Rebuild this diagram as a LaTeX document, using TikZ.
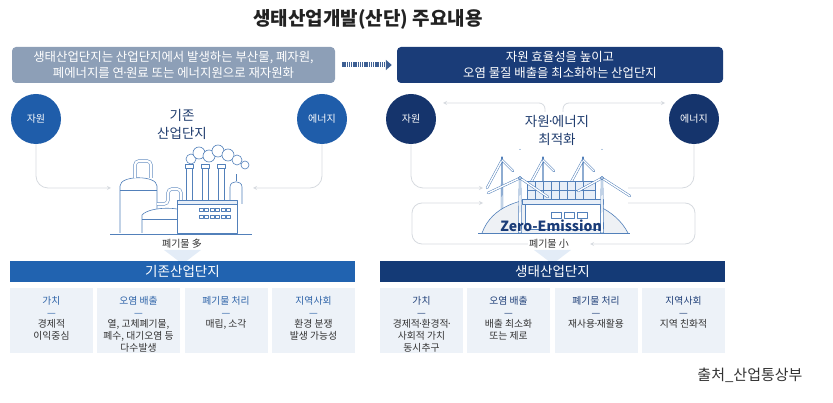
\documentclass[tikz,border=0pt]{standalone}
\usepackage{fontspec}
\setmainfont{Noto Sans CJK KR}
\usepackage{xcolor}
\usetikzlibrary{positioning, arrows.meta}

\definecolor{titletxt}{HTML}{222222}
\definecolor{graybox}{HTML}{8D9FB7}
\definecolor{navybox}{HTML}{1A3C78}
\definecolor{oldblue}{HTML}{1F5DAA}
\definecolor{newnavy}{HTML}{15346C}
\definecolor{oldbar}{HTML}{2163B0}
\definecolor{newbar}{HTML}{143A76}
\definecolor{cellbg}{HTML}{EDF2F8}
\definecolor{oldhead}{HTML}{2E63A8}
\definecolor{newhead}{HTML}{1F3F78}
\definecolor{bodytxt}{HTML}{333333}
\definecolor{midtxt}{HTML}{1F3C6E}
\definecolor{flowgray}{HTML}{D6DADF}
\definecolor{illblue}{HTML}{5280BA}
\definecolor{illfill}{HTML}{E8EFF8}
\definecolor{hillfill}{HTML}{EEF1F5}
\definecolor{glow}{HTML}{E3ECF7}
\definecolor{dotarrow}{HTML}{3D5F93}

\newcommand{\mdot}{\kern-.2em·\kern-.2em}

\tikzset{
	circ/.style = {circle, fill=#1, minimum size=50pt, inner sep=0pt, text=white, font=\fontsize{10}{11}\selectfont},
	headbox/.style = {fill=#1, rounded corners=4pt, minimum height=36pt, inner sep=0pt, text=white, align=center, font=\fontsize{12.4}{15.5}\selectfont},
	bar/.style = {fill=#1, minimum width=345pt, minimum height=21pt, inner sep=0pt, text=white, font=\fontsize{13.5}{15}\selectfont},
	cell/.style = {fill=cellbg, minimum width=83pt, minimum height=65pt, inner sep=0pt, anchor=north},
	celltext/.style = {align=center, font=\fontsize{9.8}{11.8}\selectfont, text=bodytxt, anchor=north, inner sep=0pt},
	midtitle/.style = {align=center, text=midtxt, font=\fontsize{13.5}{18}\selectfont},
	waste/.style = {text=bodytxt, inner sep=1pt, font=\fontsize{10}{12}\selectfont},
	flow/.style = {draw=flowgray, line width=0.8pt, rounded corners=12pt},
	ill/.style = {draw=illblue, line width=0.6pt, line join=round},
	pipe/.style = {draw=illblue, line width=0.5pt, double=white, double distance=2.2pt},
	blade/.style = {draw=illblue, line width=0.5pt, double=white, double distance=1.4pt, line cap=round},
}

\begin{document}
\begin{tikzpicture}[x=1pt, y=-1pt]
	\useasboundingbox (0,0) rectangle (833,403);

	\node [text=titletxt, font=\fontsize{19}{21}\selectfont\bfseries] (title) at (368,19) {생태산업개발(산단) 주요내용};

	\node [headbox=graybox, minimum width=323pt] (oldbox) at (173.5,65) {생태산업단지는 산업단지에서 발생하는 부산물, 폐자원,\\폐에너지를 연\mdot 원료 또는 에너지원으로 재자원화};
	\node [headbox=navybox, minimum width=326pt] (newbox) at (560,65) {자원 효율성을 높이고\\오염 물질 배출을 최소화하는 산업단지};
	\draw [dotarrow, line width=5pt, dash pattern=on 1.3pt off 0.9pt, shorten <=7pt, shorten >=5pt, -{Triangle[length=6pt, width=10pt]}] (oldbox) -- (newbox);

	% existing complex
	\node [circ=oldblue] (res1) at (36,119) {자원};
	\node [circ=oldblue] (en1) at (322,119) {에너지};
	\node [midtitle] (oldname) at (182,124) {기존\\산업단지};
	\node [waste] (waste1) at (182,244) {폐기물 多};

	\coordinate (in1) at (111,188);
	\coordinate (in2) at (253,188);
	\begin{scope}[-stealth]
		\draw [flow] (res1) |- (in1);
		\draw [flow] (en1) |- (in2);
	\end{scope}

	% factory
	\draw [ill, fill=white] (120,233) -- (120,186) .. controls (120,175) and (157,175) .. (157,186) -- (157,233);
	\draw [ill] (120,190) -- (157,190);
	\draw [pipe, rounded corners=4pt] (135,178) -- (135,161) -- (151,161) -- (151,178);
	\draw [pipe, rounded corners=4pt] (157,204) -- (168,204) -- (168,189) -- (181,189) -- (181,203);
	\foreach \x in {189,205,221}
	{
		\draw [ill, fill=white] (\x-3,203) rectangle (\x+3,168);
		\draw [ill, fill=white] (\x-4,168) rectangle (\x+4,164);
	}
	\foreach \cx/\cy/\r in {191/159/5, 199/153/6, 209/156/6, 218/151/6, 228/155/6, 237/160/5, 245/165/4}
	{
		\draw [ill, fill=white] (\cx,\cy) circle (\r pt);
	}
	\draw [ill, fill=white] (142,233) -- (142,215) .. controls (150,206) and (184,206) .. (192,215) -- (192,233);
	\draw [ill] (142,219) -- (192,219);
	\draw [ill, fill=white] (230,204) -- (230,187) .. controls (230,180) and (242,180) .. (242,187) -- (242,204);
	\draw [ill] (236,181) -- (236,174);
	\draw [ill, fill=white] (177,233) rectangle (237,204);
	\draw [ill, fill=illfill] (177,204) rectangle (237,200);
	\foreach \i in {0,...,5}
	{
		\draw [ill] (199+\i*5.5,208) rectangle ++(4,3.5);
		\draw [ill] (199+\i*5.5,215) rectangle ++(4,3.5);
	}
	\draw [ill] (110,234) -- (252,234);

	% eco complex
	\node [circ=newnavy] (res2) at (411,119) {자원};
	\node [circ=newnavy] (en2) at (694,119) {에너지};
	\node [midtitle] (newname) at (557,130) {자원\mdot 에너지\\최적화};
	\node [waste] (waste2) at (549,244) {폐기물 小};

	\coordinate (top1) at (545,112);
	\coordinate (top2) at (443,103);
	\coordinate (top3) at (563,112);
	\coordinate (top4) at (665,103);
	\coordinate (in3) at (483,188);
	\coordinate (in4) at (628,188);
	\coordinate (in5) at (483,203);
	\coordinate (out5) at (628,203);
	\coordinate (loopl) at (412,203);
	\coordinate (loopr) at (695,203);
	\coordinate (back) at (590,244);
	\begin{scope}[-stealth]
		\draw [flow, rounded corners=6pt] (top1) |- (top2);
		\draw [flow, rounded corners=6pt] (top3) |- (top4);
		\draw [flow] (res2) |- (in3);
		\draw [flow, rounded corners=10pt] (waste2) -| (loopl) -- (in5);
		\draw [flow, rounded corners=10pt] (out5) -- (loopr) |- (back);
	\end{scope}
	\draw [flow] (en2) |- (in4);

	% wind and solar
	\foreach \x in {502,543,583}
	{
		\draw [ill, fill=white] (\x-1,222) -- (\x-0.5,157) -- (\x+0.5,157) -- (\x+1,222) -- cycle;
		\draw [blade] (\x,160) -- (\x-15,188);
		\draw [blade] (\x,160) -- (\x+11,171);
	}
	\draw [ill, fill=hillfill] (482,233) .. controls (492,206) and (520,198) .. (552,197) .. controls (585,197) and (615,208) .. (628,233);
	\draw [ill, fill=illfill] (527,181) rectangle (595,199);
	\foreach \x in {535,543,...,590}
	{
		\draw [ill, line width=0.4pt] (\x,181) -- (\x,199);
	}
	\draw [ill, line width=0.4pt] (527,190) -- (595,190);
	\draw [ill, fill=white] (525,204) rectangle (600,229);
	\draw [ill, fill=illfill] (522,199) rectangle (603,204);
	\foreach \x in {551,564,577}
	{
		\draw [ill] (\x,212) rectangle ++(10,6);
	}
	\foreach \hx/\lx/\ly/\rx/\ry in {520/488/193/548/197, 602/578/191/630/196}
	{
		\draw [ill, fill=white] (\hx-1.6,233) -- (\hx-0.8,178) -- (\hx+0.8,178) -- (\hx+1.6,233) -- cycle;
		\draw [blade] (\hx,178) -- (\hx,150);
		\draw [blade] (\hx,178) -- (\lx,\ly);
		\draw [blade] (\hx,178) -- (\rx,\ry);
		\draw [ill, fill=white] (\hx,178) circle (1.6pt);
	}
	\draw [ill] (478,233) -- (630,233);
	\node [text=navybox, font=\fontsize{14}{16}\selectfont\bfseries, inner sep=0pt] (zero) at (551,226) {Zero-Emission};

	% tables
	\fill [glow] (164,250) -- (201,250) -- (182.5,264) -- cycle;
	\fill [glow] (534,250) -- (571,250) -- (552.5,264) -- cycle;
	\node [bar=oldbar] (oldbar) at (182.5,271.5) {기존산업단지};
	\node [bar=newbar] (newbar) at (552.5,271.5) {생태산업단지};

	\foreach \n/\x/\head/\body in {1/51.5/가치/{경제적\\이익중심}, 2/138.5/오염 배출/{열, 고체폐기물,\\폐수, 대기오염 등\\다수발생}, 3/226/폐기물 처리/{매립, 소각}, 4/313.5/지역사회/{환경 분쟁\\발생 가능성}}
	{
		\node [cell] (old\n) at (\x,288) {};
		\node [celltext] (oldtxt\n) at ([yshift=-8pt]old\n.north) {\textcolor{oldhead}{\head}\\\textcolor{oldhead}{—}\\\body};
	}
	\foreach \n/\x/\head/\body in {1/421.5/가치/{경제적\mdot 환경적\mdot\\사회적 가치\\동시추구}, 2/508.5/오염 배출/{배출 최소화\\또는 제로}, 3/596/폐기물 처리/{재사용\mdot 재활용}, 4/683.5/지역사회/{지역 친화적}}
	{
		\node [cell] (new\n) at (\x,288) {};
		\node [celltext] (newtxt\n) at ([yshift=-8pt]new\n.north) {\textcolor{newhead}{\head}\\\textcolor{newhead}{—}\\\body};
	}

	\node [anchor=east, text=bodytxt, font=\fontsize{15}{17}\selectfont] (source) at (806,375) {출처\_산업통상부};
\end{tikzpicture}
\end{document}
